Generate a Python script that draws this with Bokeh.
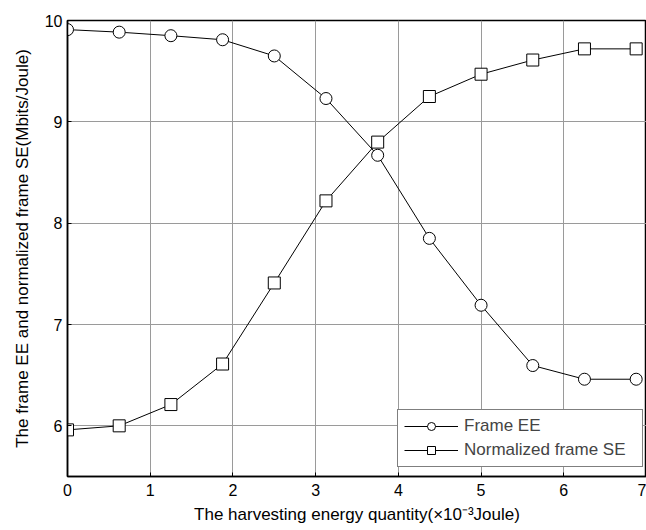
from bokeh.plotting import figure
from bokeh.models import Range1d, FixedTicker, Legend, LegendItem
from bokeh.embed import file_html
from bokeh.resources import INLINE

# ---- data ----
x_vals = [0, 0.625, 1.25, 1.875, 2.5, 3.125, 3.75, 4.375, 5, 5.625, 6.25, 6.875]
frame_ee = [9.91, 9.885, 9.85, 9.81, 9.65, 9.23, 8.67, 7.85, 7.19, 6.595, 6.46, 6.46]
norm_se = [5.96, 6.0, 6.21, 6.61, 7.41, 8.22, 8.80, 9.25, 9.47, 9.61, 9.72, 9.72]
x_ticks = [0, 1, 2, 3, 4, 5, 6, 7]
y_ticks = [6, 7, 8, 9, 10]
series_names = ["Frame EE", "Normalized frame SE"]

FONT = "Liberation Sans"

p = figure(width=646, height=530, x_range=Range1d(0, 7), y_range=Range1d(5.5, 10),
           output_backend="svg", toolbar_location=None,
           min_border_left=67, min_border_right=0, min_border_top=20, min_border_bottom=54,
           x_axis_label="The harvesting energy quantity(\u00d710\u207b\u00b3Joule)",
           y_axis_label="The frame EE and normalized frame SE(Mbits/Joule)")
p.outline_line_color = "black"
p.outline_line_width = 1.5
p.background_fill_color = "white"
p.border_fill_color = "white"

for ax, ticks in ((p.xaxis, x_ticks), (p.yaxis, y_ticks)):
    ax.ticker = FixedTicker(ticks=ticks)
    ax.major_tick_in = 4
    ax.major_tick_out = 0
    ax.minor_tick_line_color = None
    ax.axis_line_color = "black"
    ax.axis_line_width = 1.5
    ax.major_tick_line_color = "black"
    ax.major_label_text_font = FONT
    ax.major_label_text_font_size = "16px"
    ax.major_label_text_color = "black"
    ax.axis_label_text_font = FONT
    ax.axis_label_text_font_size = "17px"
    ax.axis_label_text_font_style = "normal"
    ax.axis_label_text_color = "black"
p.xaxis.major_label_standoff = 7
p.xaxis.axis_label_standoff = 6
p.yaxis.major_label_standoff = 5
p.yaxis.axis_label_standoff = 10

p.xgrid.ticker = FixedTicker(ticks=x_ticks)
p.ygrid.ticker = FixedTicker(ticks=y_ticks)
p.grid.grid_line_color = "#9a9a9a"
p.grid.grid_line_width = 1

l1 = p.line(x_vals, frame_ee, line_color="black", line_width=1)
s1 = p.scatter(x_vals, frame_ee, marker="circle", size=12, fill_color="white",
               line_color="black", line_width=1)
l2 = p.line(x_vals, norm_se, line_color="black", line_width=1)
s2 = p.scatter(x_vals, norm_se, marker="square", size=12, fill_color="white",
               line_color="black", line_width=1)

legend = Legend(items=[LegendItem(label=series_names[0], renderers=[l1, s1]),
                       LegendItem(label=series_names[1], renderers=[l2, s2])],
                location=(330, 9), glyph_width=54, glyph_height=20, label_height=20,
                label_width=172, label_standoff=6, padding=6, spacing=4, margin=0,
                border_line_color="black", border_line_width=1.5,
                label_text_font=FONT, label_text_font_size="17px",
                background_fill_alpha=1.0)
p.add_layout(legend, "center")

open("out.html", "w").write(file_html(p, INLINE))
